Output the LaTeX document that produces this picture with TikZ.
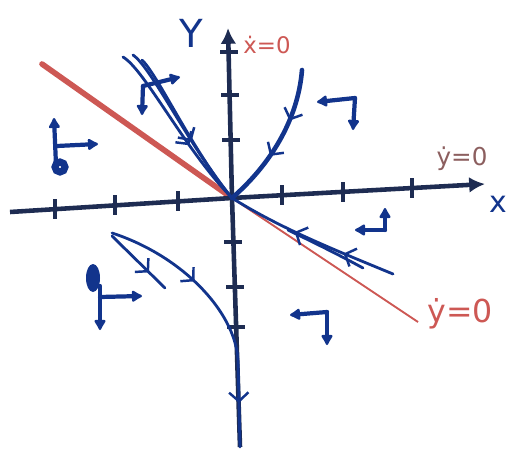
\documentclass[tikz,border=0pt]{standalone}
\usepackage{fontspec}
\setmainfont{DejaVu Sans}
\usetikzlibrary{arrows.meta,decorations.markings}
\definecolor{ink}{RGB}{18,52,140}
\definecolor{axisink}{RGB}{30,44,82}
\definecolor{redink}{RGB}{205,88,84}
\definecolor{grayred}{RGB}{140,95,95}
\tikzset{
  traj/.style={ink, line width=1.6pt, line cap=round},
  chev/.style={postaction={decorate, decoration={markings,
    mark=at position #1 with {\arrow{Straight Barb[length=5pt,width=11pt,line width=1.4pt]}}}}},
  vec/.style={ink, line width=2.4pt, line cap=round, -{Latex[round,length=7pt,width=8pt]}},
  axisline/.style={axisink, line width=2.6pt, -{Latex[length=9pt,width=9pt]}},
}
\begin{document}
\begin{tikzpicture}[x=0.2mm, y=-0.2mm]
    \useasboundingbox (0,0) rectangle (517,461);
    \coordinate (O) at (232,198);
    \draw[redink, line width=3.2pt, line cap=round] (42,64) -- (O);
    \draw[redink, line width=1.1pt] (O) -- (418,322);
    \draw[axisline] (10,212) -- (O) -- (485,184);
    \draw[axisline] (240,447) -- (O) -- (228,28);
    \foreach \tx/\ty in {55/209, 115/205, 178/201, 282/195, 343/192, 412/188}
        \draw[axisink, line width=2pt] (\tx,\ty-10) -- (\tx,\ty+10);
    \foreach \tx/\ty in {229/52, 230/95, 231/140, 233/242, 235/287, 236/327}
        \draw[axisink, line width=2pt] (\tx-9,\ty) -- (\tx+9,\ty);
    \draw[traj, chev=0.62] (123,57) .. controls (145,70) and (185,150) .. (O);
    \draw[traj, chev=0.6] (133,55) .. controls (152,68) and (190,148) .. (O);
    \draw[traj] (142,60) .. controls (158,75) and (192,150) .. (O);
    \draw[traj, line width=2.6pt, chev=0.35, chev=0.62] (302,70) .. controls (298,120) and (270,165) .. (O);
    \draw[traj, chev=0.3, chev=0.6] (393,274) .. controls (330,248) and (280,228) .. (O);
    \draw[traj] (363,268) .. controls (330,250) and (300,236) .. (288,230);
    \draw[traj, chev=0.35, chev=0.84] (112,233) .. controls (180,255) and (235,310) .. (238,360) -- (240,447);
    \draw[traj, chev=0.7] (112,236) -- (165,288);
    \draw[vec] (56,165) -- (54,118);
    \draw[vec] (57,146) -- (98,144);
    \draw[ink, line width=4pt] (60,167) circle (5);
    \draw[vec] (143,86) -- (180,77);
    \draw[vec] (143,86) -- (142,115);
    \draw[vec] (355,98) -- (317,102);
    \draw[vec] (355,98) -- (353,130);
    \draw[vec] (385,230) -- (355,230);
    \draw[vec] (385,230) -- (385,208);
    \draw[vec] (327,312) -- (290,315);
    \draw[vec] (327,312) -- (327,345);
    \fill[ink] (93,278) ellipse (7 and 14);
    \draw[vec] (100,286) -- (100,330);
    \draw[vec] (100,297) -- (142,296);
    \node[ink, font=\fontsize{22}{22}\selectfont] (ylab) at (191,33) {Y};
    \node[ink, font=\fontsize{17}{17}\selectfont] (xlab) at (498,204) {x};
    \node[redink, font=\fontsize{13}{13}\selectfont] (xnull) at (267,45) {ẋ=0};
    \node[grayred, font=\fontsize{14}{14}\selectfont] (ynullup) at (462,159) {ẏ=0};
    \node[redink, font=\fontsize{18}{18}\selectfont] (ynull) at (460,314) {ẏ=0};
\end{tikzpicture}
\end{document}
